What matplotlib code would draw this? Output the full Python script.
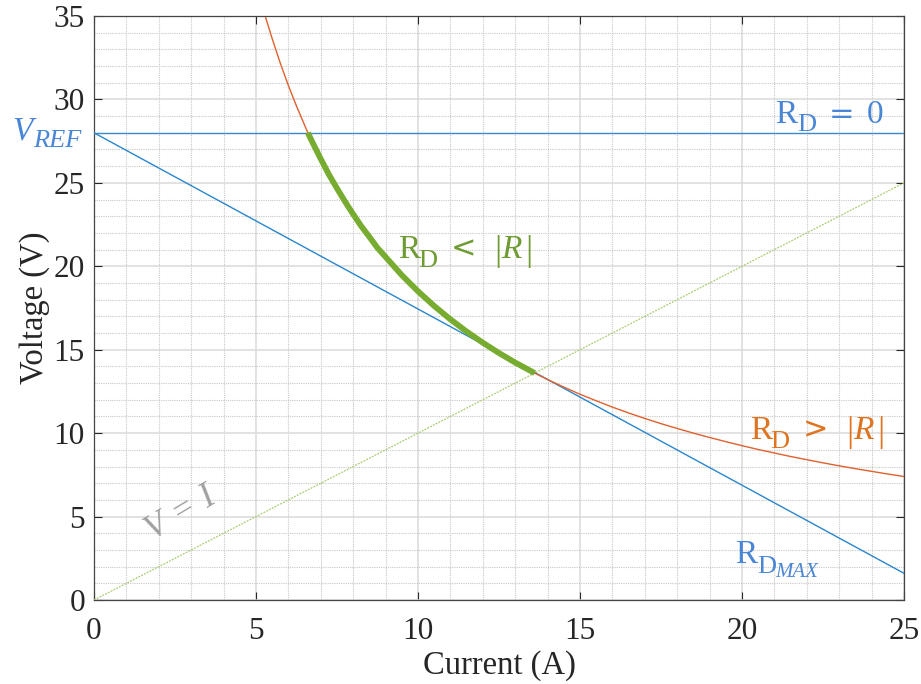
import matplotlib
matplotlib.use("Agg")
import matplotlib.pyplot as plt
from matplotlib.ticker import MultipleLocator

# Data (constant-power curve)
cp_current = [5.3, 5.5, 5.75, 6.0, 6.25, 6.6, 6.75, 7.0, 7.25, 7.5, 7.75, 8.0, 8.25, 8.5,
              8.75, 9.0, 9.5, 10.0, 10.5, 11.0, 11.5, 12.0, 12.5, 13.0, 13.6, 14.0, 14.5,
              15.0, 15.5, 16.0, 16.5, 17.0, 17.5, 18.0, 18.5, 19.0, 19.5, 20.0, 20.5,
              21.0, 21.5, 22.0, 22.5, 23.0, 23.5, 24.0, 24.5, 25.0]
cp_voltage = [34.9, 33.64, 32.17, 30.83, 29.6, 28.0, 27.4, 26.43, 25.5, 24.67, 23.87,
              23.12, 22.4, 21.76, 21.1, 20.56, 19.47, 18.5, 17.62, 16.82, 16.09, 15.42,
              14.8, 14.23, 13.6, 13.21, 12.76, 12.33, 11.94, 11.56, 11.21, 10.88, 10.57,
              10.28, 10.0, 9.74, 9.49, 9.25, 9.02, 8.81, 8.6, 8.41, 8.22, 8.04, 7.87,
              7.71, 7.55, 7.4]
stable_from, stable_to = 6.6, 13.6  # thick green stretch (A)

vref_current = [0, 25]
vref_voltage = [28, 28]
rdmax_current = [0, 25]
rdmax_voltage = [28, 1.6]
vi_current = [0, 25]
vi_voltage = [0, 25]

xticks = [0, 5, 10, 15, 20, 25]
yticks = [0, 5, 10, 15, 20, 25, 30, 35]

plt.rcParams['font.family'] = ['Liberation Serif', 'DejaVu Serif']
plt.rcParams['mathtext.fontset'] = 'custom'
plt.rcParams['mathtext.rm'] = 'Liberation Serif'
plt.rcParams['mathtext.it'] = 'Liberation Serif:italic'

fig = plt.figure(figsize=(9.21, 6.84), dpi=100)
ax = fig.add_axes([94/921, 84/684, 810/921, 584/684])

green = '#77AC30'

ax.plot(vi_current, vi_voltage, color='#A8CC70', lw=0.9, ls=(0, (1.5, 1)), zorder=3)
ax.plot(vref_current, vref_voltage, color='#3A8AD0', lw=1.0, zorder=3)
ax.plot(rdmax_current, rdmax_voltage, color='#2A86CC', lw=1.0, zorder=3)
ax.plot(cp_current, cp_voltage, color='#E0602E', lw=1.0, zorder=3)
i0 = cp_current.index(stable_from)
i1 = cp_current.index(stable_to)
ax.plot(cp_current[i0:i1 + 1], cp_voltage[i0:i1 + 1],
        color=green, lw=4.2, solid_capstyle='butt', solid_joinstyle='round', zorder=4)

ax.set_xlim(0, 25)
ax.set_ylim(0, 35)
ax.set_xticks(xticks)
ax.set_yticks(yticks)
ax.xaxis.set_minor_locator(MultipleLocator(1))
ax.yaxis.set_minor_locator(MultipleLocator(1))
ax.grid(True, which='major', color='#DADADA', lw=1.1, ls='-', zorder=0)
ax.grid(True, which='minor', color='#C8C8C8', lw=0.8, ls=(0, (1, 1)), zorder=0)
ax.tick_params(which='major', direction='in', length=6, width=0.8, top=True, right=True,
               labelsize=22.5, colors='#262626')
ax.tick_params(axis='x', which='major', pad=12)
ax.tick_params(axis='y', which='major', pad=6.5)
ax.tick_params(which='minor', length=0, top=True, right=True)
for s in ax.spines.values():
    s.set_color('#444444')
    s.set_linewidth(0.9)

ax.set_xlabel('Current (A)', fontsize=23.5, color='#262626', labelpad=3)
ax.set_ylabel('Voltage (V)', fontsize=23.5, color='#262626', labelpad=3)

PX = 0.72  # points per pixel at 100 dpi
SERIF = 'Liberation Serif'
SYM = 'DejaVu Sans'


def compose(xy, pieces, color):
    """Draw a label built from pieces (text, dx px, dy px down, size, style, family)."""
    for txt, dx, dy, size, style, fam in pieces:
        ax.annotate(txt, xy=xy, xytext=(dx * PX, -dy * PX), textcoords='offset points',
                    color=color, fontsize=size, fontstyle=style, family=fam,
                    ha='left', va='baseline', annotation_clip=False)


tb = '#4A86D6'
n, it = 'normal', 'italic'
compose((-2.53, 27.6), [('V', 0, 0, 24, it, SERIF), ('REF', 21, 8, 19, it, SERIF)], tb)
compose((21.02, 28.58), [('R', 0, 0, 24, n, SERIF), ('D', 22, 8, 19, n, SERIF),
                         ('=', 54, 0, 22, n, SYM), ('0', 92, 0, 24, n, SERIF)], tb)
rel_pieces = lambda sym: [('R', 0, 0, 24, n, SERIF), ('D', 20, 9, 19, n, SERIF),
                          (sym, 53, -1, 22, n, SYM),
                          ('|', 96, 2, 26, n, SERIF), ('R', 103, 0, 24, it, SERIF),
                          ('|', 127, 2, 26, n, SERIF)]
compose((9.38, 20.49), rel_pieces('<'), '#6E9C32')
compose((20.25, 9.65), rel_pieces('>'), '#E0731E')
compose((19.78, 2.22), [('R', 0, 0, 24, n, SERIF), ('D', 22, 10, 19, n, SERIF),
                        ('MAX', 40, 14, 15, it, SERIF)], tb)
ax.text(2.72, 5.2, r'$V\;=\;I$', color='#A0A0A0', fontsize=25, ha='center', va='center',
        rotation=31)

fig.savefig('out.png', dpi=100)
